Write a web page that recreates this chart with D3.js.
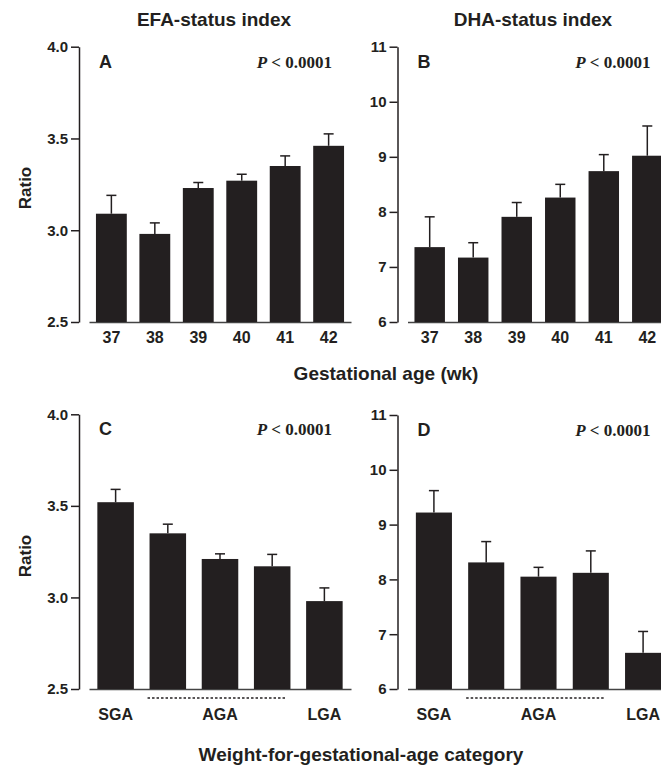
<!DOCTYPE html>
<html>
<head>
<meta charset="utf-8">
<script src="https://cdn.jsdelivr.net/npm/d3@7"></script>
<style>
body { margin: 0; background: #fff; }
text { font-family: "Liberation Sans", Arial, sans-serif; font-weight: bold; fill: #231f20; }
.pval { font-family: "Liberation Serif", "Times New Roman", serif; }
</style>
</head>
<body>
<div id="chart-area"></div>
<script>
// gestational age panels (A, B)
var weeks = ["37", "38", "39", "40", "41", "42"];
var efaByAge = [3.09, 2.98, 3.23, 3.27, 3.35, 3.46];
var efaByAgeSem = [0.10, 0.06, 0.03, 0.035, 0.055, 0.065];
var dhaByAge = [7.36, 7.17, 7.91, 8.26, 8.74, 9.02];
var dhaByAgeSem = [0.55, 0.27, 0.26, 0.24, 0.30, 0.54];

// weight-for-gestational-age panels (C, D)
var weightCats = ["SGA", "AGA-1", "AGA-2", "AGA-3", "LGA"];
var weightLabels = ["SGA", "", "AGA", "", "LGA"];
var efaByWeight = [3.52, 3.35, 3.21, 3.17, 2.98];
var efaByWeightSem = [0.07, 0.05, 0.028, 0.065, 0.072];
var dhaByWeight = [9.22, 8.31, 8.05, 8.12, 6.66];
var dhaByWeightSem = [0.40, 0.38, 0.17, 0.40, 0.39];

var efaTicks = [2.5, 3.0, 3.5, 4.0];
var dhaTicks = [6, 7, 8, 9, 10, 11];

var ink = "#231f20";

var svg = d3.select("#chart-area")
  .append("svg")
    .attr("width", 661)
    .attr("height", 774);

function panel(opt) {
  var g = svg.append("g");

  var x = d3.scaleBand()
    .domain(opt.cats)
    .range([opt.left + 10, opt.left + 272])
    .paddingInner(opt.padIn)
    .paddingOuter(0.16);

  var y = d3.scaleLinear()
    .domain([opt.ticks[0], opt.ticks[opt.ticks.length - 1]])
    .range([opt.bottom, opt.top]);

  var yAxis = g.append("g")
    .attr("transform", "translate(" + opt.left + ",0)")
    .call(d3.axisLeft(y)
      .tickValues(opt.ticks)
      .tickSize(8)
      .tickSizeOuter(0)
      .tickPadding(3)
      .tickFormat(opt.fmt));
  yAxis.selectAll("path, line").attr("stroke", ink).attr("stroke-width", 1.5);
  yAxis.selectAll("text").attr("font-size", "15px").attr("fill", ink);

  var xAxis = g.append("g")
    .attr("transform", "translate(0," + opt.bottom + ")")
    .call(d3.axisBottom(x)
      .tickSize(0)
      .tickSizeOuter(0)
      .tickPadding(opt.labelPad)
      .tickFormat(function(d, i) { return opt.labels[i]; }));
  xAxis.select(".domain").attr("stroke", "#444").attr("stroke-width", 1.5);
  xAxis.selectAll("text").attr("font-size", "16px").attr("fill", ink);

  g.selectAll("rect.bar")
    .data(opt.values)
    .enter()
    .append("rect")
      .attr("class", "bar")
      .attr("x", function(d, i) { return x(opt.cats[i]); })
      .attr("y", function(d) { return y(d); })
      .attr("width", x.bandwidth())
      .attr("height", function(d) { return opt.bottom - y(d); })
      .attr("fill", ink);

  var cx = function(i) { return x(opt.cats[i]) + x.bandwidth() / 2; };

  g.selectAll("line.err")
    .data(opt.values)
    .enter()
    .append("line")
      .attr("class", "err")
      .attr("x1", function(d, i) { return cx(i); })
      .attr("x2", function(d, i) { return cx(i); })
      .attr("y1", function(d) { return y(d); })
      .attr("y2", function(d, i) { return y(d + opt.sem[i]); })
      .attr("stroke", ink)
      .attr("stroke-width", 1.5);

  g.selectAll("line.cap")
    .data(opt.values)
    .enter()
    .append("line")
      .attr("class", "cap")
      .attr("x1", function(d, i) { return cx(i) - 5; })
      .attr("x2", function(d, i) { return cx(i) + 5; })
      .attr("y1", function(d, i) { return y(d + opt.sem[i]); })
      .attr("y2", function(d, i) { return y(d + opt.sem[i]); })
      .attr("stroke", ink)
      .attr("stroke-width", 1.5);

  g.append("text")
    .attr("x", opt.left + 20)
    .attr("y", opt.top + 21)
    .attr("font-size", "18px")
    .text(opt.letter);

  var p = g.append("text")
    .attr("class", "pval")
    .attr("x", opt.left + 253)
    .attr("y", opt.top + 21)
    .attr("font-size", "17px")
    .attr("text-anchor", "end");
  p.append("tspan").attr("font-style", "italic").text("P");
  p.append("tspan").text(" < 0.0001");

  if (opt.dotted) {
    g.append("line")
      .attr("x1", x(opt.cats[1]) - 2)
      .attr("x2", x(opt.cats[3]) + x.bandwidth() - 4)
      .attr("y1", opt.bottom + 9)
      .attr("y2", opt.bottom + 9)
      .attr("stroke", ink)
      .attr("stroke-width", 1.3)
      .attr("stroke-dasharray", "2.5,2");
  }
}

panel({ letter: "A", cats: weeks, labels: weeks, values: efaByAge, sem: efaByAgeSem,
  ticks: efaTicks, fmt: d3.format(".1f"), left: 79, top: 46.7, bottom: 322,
  padIn: 0.29, labelPad: 10 });
panel({ letter: "B", cats: weeks, labels: weeks, values: dhaByAge, sem: dhaByAgeSem,
  ticks: dhaTicks, fmt: d3.format("d"), left: 397.5, top: 46.7, bottom: 322,
  padIn: 0.3, labelPad: 10 });
panel({ letter: "C", cats: weightCats, labels: weightLabels, values: efaByWeight, sem: efaByWeightSem,
  ticks: efaTicks, fmt: d3.format(".1f"), left: 79, top: 414.3, bottom: 689,
  padIn: 0.3, labelPad: 20, dotted: true });
panel({ letter: "D", cats: weightCats, labels: weightLabels, values: dhaByWeight, sem: dhaByWeightSem,
  ticks: dhaTicks, fmt: d3.format("d"), left: 397.5, top: 415, bottom: 689,
  padIn: 0.31, labelPad: 20, dotted: true });

// column titles and axis titles
svg.append("text").attr("x", 214).attr("y", 26).attr("text-anchor", "middle")
  .attr("font-size", "19px").text("EFA-status index");
svg.append("text").attr("x", 533).attr("y", 26).attr("text-anchor", "middle")
  .attr("font-size", "19px").text("DHA-status index");
svg.append("text").attr("x", 386).attr("y", 380).attr("text-anchor", "middle")
  .attr("font-size", "19px").text("Gestational age (wk)");
svg.append("text").attr("x", 361).attr("y", 761).attr("text-anchor", "middle")
  .attr("font-size", "19px").text("Weight-for-gestational-age category");

svg.append("text")
  .attr("transform", "translate(31,188) rotate(-90)")
  .attr("text-anchor", "middle")
  .attr("font-size", "17px")
  .text("Ratio");
svg.append("text")
  .attr("transform", "translate(31,556) rotate(-90)")
  .attr("text-anchor", "middle")
  .attr("font-size", "17px")
  .text("Ratio");
</script>
</body>
</html>
